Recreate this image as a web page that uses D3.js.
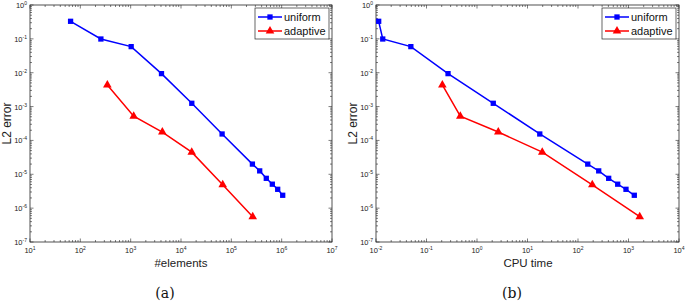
<!DOCTYPE html>
<html>
<head>
<meta charset="utf-8">
<script src="https://cdn.jsdelivr.net/npm/d3@7"></script>
<style>
  body { margin: 0; background: #fff; }
  svg text { font-family: "Liberation Sans", Arial, sans-serif; }
</style>
</head>
<body>
<div id="chart"></div>
<script>
// values
const elemsUniform = [64, 256, 1024, 4096, 16384, 65536, 262144, 366000, 495000, 652000, 834000, 1048576];
const errUniform   = [0.33, 0.099, 0.059, 0.0094, 0.00125, 1.55e-4, 2.0e-5, 1.26e-5, 7.6e-6, 5.1e-6, 3.6e-6, 2.4e-6];
const cpuUniform   = [0.0113, 0.0136, 0.049, 0.267, 2.1, 17.5, 156, 257, 405, 611, 892, 1303];

const elemsAdaptive = [344, 1148, 4256, 16330, 67400, 266000];
const errAdaptive   = [0.00434, 5.2e-4, 1.77e-4, 4.5e-5, 4.9e-6, 5.6e-7];
const cpuAdaptive   = [0.206, 0.467, 2.64, 19.6, 192, 1667];

const seriesNames = ["uniform", "adaptive"];
const seriesColors = ["#0000ff", "#ff0000"];

const yDomain = [1e-7, 1];
const yTickExps = [0, -1, -2, -3, -4, -5, -6, -7];

const panels = [
  { left: 30, right: 332, xDomain: [1e1, 1e7], xTickExps: [1, 2, 3, 4, 5, 6, 7],
    xLabel: "#elements", caption: "(a)", xU: elemsUniform, xA: elemsAdaptive, xLabelX: 181, capX: 165 },
  { left: 376, right: 679, xDomain: [1e-2, 1e4], xTickExps: [-2, -1, 0, 1, 2, 3, 4],
    xLabel: "CPU time", caption: "(b)", xU: cpuUniform, xA: cpuAdaptive, xLabelX: 528, capX: 512 }
];

const W = 685, H = 302;
const plotTop = 5, plotBottom = 242;

const svg = d3.select("#chart").append("svg")
  .attr("width", W).attr("height", H);

function powLabel(sel, exp) {
  sel.append("tspan").text("10");
  sel.append("tspan").attr("dy", -3).style("font-size", "5px").text(exp);
}

function minorValues(domain) {
  const out = [];
  const e0 = Math.round(Math.log10(domain[0])), e1 = Math.round(Math.log10(domain[1]));
  for (let e = e0; e < e1; e++) {
    for (let k = 2; k <= 9; k++) out.push(k * Math.pow(10, e));
  }
  return out;
}

panels.forEach(function (p) {
  const x = d3.scaleLog().domain(p.xDomain).range([p.left, p.right]);
  const y = d3.scaleLog().domain(yDomain).range([plotBottom, plotTop]);
  const g = svg.append("g");
  const axisColor = "#262626";

  // ticks inside the box on all four sides
  const xMajor = p.xTickExps.map(e => Math.pow(10, e));
  const yMajor = yTickExps.map(e => Math.pow(10, e));
  const xMinor = minorValues(p.xDomain);
  const yMinor = minorValues(yDomain);

  function xTicks(vals, len) {
    vals.forEach(function (v) {
      const px = x(v);
      g.append("line").attr("x1", px).attr("x2", px).attr("y1", plotBottom).attr("y2", plotBottom - len)
        .attr("stroke", axisColor).attr("stroke-width", 0.6);
      g.append("line").attr("x1", px).attr("x2", px).attr("y1", plotTop).attr("y2", plotTop + len)
        .attr("stroke", axisColor).attr("stroke-width", 0.6);
    });
  }
  function yTicks(vals, len) {
    vals.forEach(function (v) {
      const py = y(v);
      g.append("line").attr("x1", p.left).attr("x2", p.left + len).attr("y1", py).attr("y2", py)
        .attr("stroke", axisColor).attr("stroke-width", 0.6);
      g.append("line").attr("x1", p.right).attr("x2", p.right - len).attr("y1", py).attr("y2", py)
        .attr("stroke", axisColor).attr("stroke-width", 0.6);
    });
  }
  xTicks(xMajor, 3.5); xTicks(xMinor, 2);
  yTicks(yMajor, 3.5); yTicks(yMinor, 2);

  g.append("rect")
    .attr("x", p.left).attr("y", plotTop)
    .attr("width", p.right - p.left).attr("height", plotBottom - plotTop)
    .attr("fill", "none").attr("stroke", axisColor).attr("stroke-width", 0.8);

  // tick labels
  p.xTickExps.forEach(function (e) {
    const t = g.append("text")
      .attr("x", x(Math.pow(10, e))).attr("y", plotBottom + 11)
      .attr("text-anchor", "middle").style("font-size", "7.5px").attr("fill", "#222");
    powLabel(t, e);
  });
  yTickExps.forEach(function (e) {
    const t = g.append("text")
      .attr("x", p.left - 3).attr("y", y(Math.pow(10, e)) + 3)
      .attr("text-anchor", "end").style("font-size", "7.5px").attr("fill", "#222");
    powLabel(t, e);
  });

  // axis titles
  g.append("text")
    .attr("transform", "translate(" + (p.left - 19) + "," + ((plotTop + plotBottom) / 2) + ") rotate(-90)")
    .attr("text-anchor", "middle").style("font-size", "12px").attr("fill", "#222")
    .text("L2 error");
  g.append("text")
    .attr("x", p.xLabelX).attr("y", 267)
    .attr("text-anchor", "middle").style("font-size", "11.5px").attr("fill", "#222")
    .text(p.xLabel);
  g.append("text")
    .attr("x", p.capX).attr("y", 298)
    .attr("text-anchor", "middle").style("font-size", "14px")
    .style("font-family", "'DejaVu Serif', 'Liberation Serif', serif").attr("fill", "#111")
    .text(p.caption);

  // lines
  const line = d3.line().x(d => x(d[0])).y(d => y(d[1]));
  const uData = p.xU.map((v, i) => [v, errUniform[i]]);
  const aData = p.xA.map((v, i) => [v, errAdaptive[i]]);

  g.append("path").datum(uData).attr("d", line)
    .attr("fill", "none").attr("stroke", seriesColors[0]).attr("stroke-width", 1.5);
  g.append("path").datum(aData).attr("d", line)
    .attr("fill", "none").attr("stroke", seriesColors[1]).attr("stroke-width", 1.5);

  const sq = d3.symbol().type(d3.symbolSquare).size(28);
  const tri = d3.symbol().type(d3.symbolTriangle).size(32);

  g.selectAll(".sq").data(uData).enter().append("path")
    .attr("d", sq)
    .attr("transform", d => "translate(" + x(d[0]) + "," + y(d[1]) + ")")
    .attr("fill", seriesColors[0]);
  g.selectAll(".tri").data(aData).enter().append("path")
    .attr("d", tri)
    .attr("transform", d => "translate(" + x(d[0]) + "," + y(d[1]) + ")")
    .attr("fill", seriesColors[1]);

  // legend
  const lx = p.right - 77, ly = 8, lw = 74, lh = 31;
  const lg = g.append("g");
  lg.append("rect").attr("x", lx).attr("y", ly).attr("width", lw).attr("height", lh)
    .attr("fill", "#fff").attr("stroke", axisColor).attr("stroke-width", 0.7);
  seriesNames.forEach(function (name, i) {
    const yy = ly + 9 + i * 14;
    lg.append("line").attr("x1", lx + 3).attr("x2", lx + 27).attr("y1", yy).attr("y2", yy)
      .attr("stroke", seriesColors[i]).attr("stroke-width", 1.5);
    lg.append("path").attr("d", i === 0 ? sq : tri)
      .attr("transform", "translate(" + (lx + 15) + "," + yy + ")")
      .attr("fill", seriesColors[i]);
    lg.append("text").attr("x", lx + 29).attr("y", yy + 4)
      .style("font-size", "11px").attr("fill", "#111").text(name);
  });
});
</script>
</body>
</html>
